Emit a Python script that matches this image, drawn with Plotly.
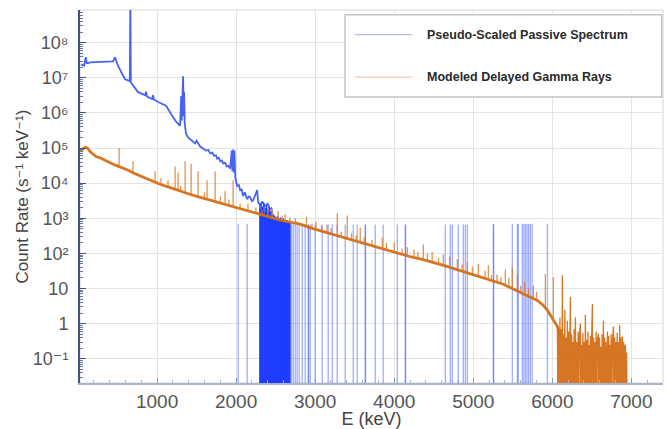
import plotly.graph_objects as go

# ---------------- data ----------------
# Pseudo-scaled passive spectrum: continuous part (keV, s^-1 keV^-1)
blue_E = [38, 63, 76, 95, 101, 110, 127, 152, 200, 279, 350, 405, 443, 468, 485, 506, 557, 595,
          640, 655, 662, 668, 684, 722, 760, 810, 850, 861, 870, 900, 937, 950, 960, 1013, 1063,
          1114, 1177, 1241, 1291, 1305, 1312, 1320, 1329, 1336, 1342, 1350, 1367, 1393, 1440,
          1481, 1500, 1545, 1585, 1620, 1650, 1671, 1700, 1720, 1745, 1760, 1780, 1800, 1820,
          1836, 1860, 1880, 1900, 1924, 1945, 1952, 1962, 1970, 1978, 1990, 2013, 2035, 2051,
          2070, 2089, 2110, 2140, 2160, 2178, 2200, 2216, 2240, 2266, 2280, 2304, 2330, 2360,
          2400, 2430, 2456]
blue_rate = [2.4e7, 2.3e7, 2.2e7, 3.6e7, 3.8e7, 2.6e7, 2.6e7, 2.75e7, 2.8e7, 2.8e7, 2.85e7, 2.9e7,
             2.95e7, 3.8e7, 3.0e7, 2.2e7, 1.3e7, 9.1e6, 8.3e6, 8.0e6, 2.0e9, 7.5e6, 6.6e6, 5.0e6,
             3.9e6, 3.5e6, 3.2e6, 4.0e6, 3.0e6, 2.7e6, 2.5e6, 3.2e6, 2.4e6, 2.05e6, 1.85e6, 1.6e6,
             9.3e5, 5.6e5, 4.3e5, 3.0e6, 6.0e5, 5.0e6, 1.1e7, 8.0e5, 4.0e6, 5.0e5, 2.5e5, 2.0e5,
             1.6e5, 1.35e5, 1.6e5, 1.1e5, 9.5e4, 8.5e4, 8.8e4, 7.0e4, 7.4e4, 6.0e4, 6.2e4, 5.0e4,
             5.3e4, 4.2e4, 4.4e4, 3.6e4, 3.8e4, 3.0e4, 3.1e4, 2.6e4, 8.5e4, 2.2e4, 9.0e4, 2.0e4,
             8.5e4, 1.4e4, 8.3e3, 8.8e3, 6.3e3, 6.6e3, 4.3e3, 5.5e3, 3.5e3, 4.2e3, 4.0e3, 3.1e3,
             3.3e3, 4.5e3, 6.3e3, 2.8e3, 2.4e3, 3.0e3, 2.2e3, 2.6e3, 1.8e3, 2.0e3]

# Passive spectrum: dense band of counting-statistics bins (empty bins between them)
blue_band_E = [2300, 2308, 2317, 2325, 2334, 2342, 2351, 2359, 2368, 2376, 2385, 2393, 2402, 2410,
               2419, 2427, 2436, 2444, 2453, 2461, 2470, 2478, 2487, 2495, 2504, 2512, 2521, 2529,
               2538, 2546, 2555, 2563, 2572, 2580, 2589, 2597, 2606, 2614, 2623, 2631, 2640, 2648,
               2657, 2665, 2674, 2682]
blue_band_rate = [2400, 1900, 2600, 1500, 2200, 1700, 2800, 1400, 2000, 1600, 2300, 1300, 1800, 1500,
                  2100, 1200, 1600, 1100, 1700, 1000, 1300, 950, 1200, 900, 1100, 1000, 850, 1150,
                  900, 1000, 800, 1050, 900, 950, 800, 1000, 850, 900, 750, 850, 800, 900,
                  750, 800, 720, 780]

# Passive spectrum: isolated single-count bins at high energy
blue_count_E = [2026, 2140, 2700, 2722, 2748, 2772, 2798, 2836, 2874, 2912, 2916, 2937, 3000, 3089,
                3165, 3216, 3279, 3380, 3482, 3532, 3633, 3637, 3760, 3861, 4039, 4140, 4144, 4646,
                4710, 4735, 4811, 4874, 4900, 4925, 5254, 5258, 5494, 5558, 5570, 5621, 5640, 5660,
                5680, 5700, 5722, 5745, 5938]
blue_count_rate = [700, 700, 690, 680, 680, 670, 670, 660, 660, 660, 660, 660, 660, 660,
                   660, 660, 660, 660, 660, 660, 660, 660, 660, 660, 660, 660, 660, 660,
                   660, 660, 660, 660, 660, 660, 680, 680, 690, 690, 690, 690, 690, 690,
                   690, 690, 690, 690, 690]

# Modeled delayed gamma rays: continuum
orange_E = [30, 50, 76, 101, 127, 152, 190, 228, 278, 342, 405, 480, 557, 620, 722, 848, 937, 1038,
            1139, 1253, 1367, 1481, 1570, 1671, 1772, 1886, 1988, 2089, 2190, 2304, 2393, 2494,
            2595, 2709, 2811, 2950, 3089, 3228, 3380, 3520, 3659, 3798, 3937, 4077, 4216, 4355,
            4494, 4646, 4786, 4925, 5089, 5229, 5380, 5494, 5596, 5697, 5811, 5887, 5938, 6000,
            6064, 6102]
orange_rate = [7.9e4, 8.9e4, 1.0e5, 1.05e5, 9.5e4, 7.9e4, 6.6e4, 5.75e4, 5.25e4, 4.4e4, 3.8e4,
               3.2e4, 2.75e4, 2.4e4, 1.86e4, 1.41e4, 1.15e4, 9.3e3, 7.8e3, 6.3e3, 5.25e3, 4.35e3,
               3.8e3, 3.3e3, 2.9e3, 2.4e3, 2.1e3, 1.74e3, 1.48e3, 1.26e3, 1.12e3, 980, 850, 760,
               680, 525, 425, 350, 270, 225, 178, 145, 117, 93, 79, 68, 56, 44, 35, 28, 21, 16.6,
               13.2, 10, 7.6, 6.0, 4.6, 3.3, 2.4, 1.4, 0.83, 0.43]

# Modeled delayed gamma rays: discrete lines (energy, continuum under line, line top)
orange_peak_E = [520, 696, 975, 1050, 1139, 1228, 1266, 1300, 1355, 1431, 1519, 1600, 1633, 1734,
                 1800, 1860, 1910, 1962, 2050, 2150, 2250, 2330, 2400, 2456, 2530, 2580, 2620, 2680,
                 2750, 2890, 2960, 3010, 3080, 3150, 3200, 3279, 3330, 3406, 3460, 3520, 3570, 3620,
                 3720, 3849, 3900, 4000, 4100, 4165, 4250, 4300, 4368, 4420, 4480, 4560, 4621, 4700,
                 4798, 4860, 4925, 4990, 5064, 5150, 5191, 5230, 5300, 5350, 5406, 5450, 5494, 5558,
                 5600, 5650, 5700, 5760, 5800, 5912, 6013]
orange_peak_base = [3.0e4, 2.0e4, 1.05e4, 9.2e3, 7.8e3, 6.6e3, 6.2e3, 5.9e3, 5.3e3, 4.7e3, 4.1e3,
                    3.6e3, 3.5e3, 3.05e3, 2.8e3, 2.5e3, 2.35e3, 2.15e3, 1.85e3, 1.58e3, 1.35e3,
                    1.22e3, 1.1e3, 1.03e3, 930, 870, 820, 780, 720, 620, 520, 480, 430, 400, 365,
                    325, 295, 265, 245, 225, 205, 190, 160, 135, 125, 105, 90, 84, 76, 70, 66, 61,
                    57, 51, 46, 40, 34, 31, 28, 25, 22, 19, 17.8, 16.6, 15, 13.8, 12.8, 11.5, 10,
                    8.3, 7.6, 6.8, 6.0, 5.3, 4.7, 2.7, 1.3]
orange_peak_rate = [1.0e5, 4.2e4, 2.2e4, 1.4e4, 1.2e4, 3.0e4, 2.0e4, 8.5e3, 4.2e4, 3.5e4, 2.2e4,
                    5.5e3, 1.2e4, 2.2e4, 4.2e3, 6.0e3, 3.4e3, 1.2e4, 2.6e3, 2.6e3, 2.0e3, 1.7e3,
                    2.0e3, 1.9e3, 1.6e3, 1.2e3, 1.3e3, 1.05e3, 1.0e3, 1.1e3, 700, 800, 620, 650,
                    520, 1.4e3, 420, 1.2e3, 380, 330, 540, 300, 240, 280, 200, 200, 135, 150, 130,
                    110, 178, 100, 110, 75, 93, 80, 68, 48, 56, 42, 50, 32, 46, 24, 25, 21, 35, 20,
                    40, 26, 12, 15, 10, 12, 8, 26, 21]

# Modeled delayed gamma rays: low-statistics tail above 6 MeV (0 = empty bin)
orange_tail_E = [6064, 6072, 6080, 6088, 6096, 6104, 6112, 6120, 6127, 6134, 6142, 6150, 6158, 6166,
                 6174, 6182, 6190, 6198, 6206, 6214, 6222, 6229, 6236, 6244, 6252, 6260, 6268, 6276,
                 6284, 6292, 6300, 6310, 6318, 6326, 6334, 6342, 6355, 6362, 6370, 6378, 6386, 6394,
                 6402, 6410, 6418, 6426, 6434, 6442, 6450, 6458, 6466, 6474, 6482, 6490, 6498, 6507,
                 6514, 6522, 6530, 6538, 6546, 6554, 6562, 6570, 6583, 6590, 6598, 6606, 6614, 6622,
                 6630, 6638, 6646, 6654, 6662, 6670, 6678, 6686, 6697, 6704, 6712, 6720, 6728, 6736,
                 6744, 6752, 6760, 6773, 6780, 6788, 6796, 6804, 6812, 6820, 6828, 6836, 6844, 6852,
                 6860, 6868, 6876, 6887, 6894, 6902, 6910, 6918, 6925, 6932, 6940, 6948]
orange_tail_rate = [0.9, 0, 0.6, 0, 1.5, 0, 0.7, 0, 24, 0, 0.5, 0, 2.5, 0,
                    0.4, 0, 1.2, 0, 0.6, 0, 0.35, 5.8, 0, 0.5, 0, 0.3, 0, 0.7,
                    0, 1.5, 0, 0.3, 0, 0.6, 0, 0.4, 1.0, 0, 0.25, 0, 0.55, 0,
                    0.3, 0, 1.8, 0, 0.35, 0, 0.6, 0, 0.25, 0, 0.45, 0, 0.5, 3.6,
                    0, 0.4, 0, 0.3, 0, 0.6, 0, 0.35, 0.52, 0, 0.4, 0, 0.22, 0,
                    0.5, 0, 1.2, 0, 0.4, 0, 0.3, 0, 0.6, 0, 0.45, 0, 0.25, 0,
                    0.5, 0, 0.3, 0.83, 0, 0.4, 0, 0.3, 0, 0.55, 0, 0.3, 0, 0.9,
                    0, 0.4, 0, 0.43, 0, 0.3, 0, 0.25, 0.22, 0, 0.15, 0]

x_tick_vals = [1000, 2000, 3000, 4000, 5000, 6000, 7000]
y_tick_vals = [0.1, 1, 10, 100, 1e3, 1e4, 1e5, 1e6, 1e7, 1e8]
y_tick_text = ["10\u207b\u00b9", "1", "10", "10\u00b2", "10\u00b3", "10\u2074",
               "10\u2075", "10\u2076", "10\u2077", "10\u2078"]

series_names = ["Pseudo-Scaled Passive Spectrum", "Modeled Delayed Gamma Rays"]

# ---------------- helpers ----------------
FLOOR = 1e-3  # empty bins are drawn below the bottom of the log axis


def shown(rates):
    return [r if r > 0 else FLOOR for r in rates]


def sticks(E, lo, hi):
    xs, ys = [], []
    for e, a, b in zip(E, lo, hi):
        xs += [e, e, None]
        ys += [a, b, None]
    return xs, ys


BLUE = "rgba(40,70,245,0.85)"
BLUE_STICK = "rgba(45,75,255,0.45)"
BLUE_BAND = "rgb(30,60,255)"
ORANGE = "rgba(212,110,22,0.95)"
ORANGE_THIN = "rgba(218,120,35,0.8)"

fig = go.Figure()

bx, by = sticks(blue_count_E, [FLOOR] * len(blue_count_E), blue_count_rate)
fig.add_trace(go.Scatter(x=bx, y=by, mode="lines", line=dict(color=BLUE_STICK, width=1.3),
                         legendgroup="b", showlegend=False, hoverinfo="skip"))
bx, by = sticks(blue_band_E, [FLOOR] * len(blue_band_E), blue_band_rate)
fig.add_trace(go.Scatter(x=bx, y=by, mode="lines", line=dict(color=BLUE_BAND, width=1.3),
                         legendgroup="b", showlegend=False, hoverinfo="skip"))
fig.add_trace(go.Scatter(x=blue_E, y=blue_rate, mode="lines", name=series_names[0],
                         line=dict(color=BLUE, width=1.8), legendgroup="b", showlegend=False))

fig.add_trace(go.Scatter(x=orange_E, y=orange_rate, mode="lines", name=series_names[1],
                         line=dict(color=ORANGE, width=2.8), legendgroup="o", showlegend=False))
ox, oy = sticks(orange_peak_E, orange_peak_base, orange_peak_rate)
fig.add_trace(go.Scatter(x=ox, y=oy, mode="lines", line=dict(color=ORANGE_THIN, width=1.3),
                         legendgroup="o", showlegend=False, hoverinfo="skip"))
fig.add_trace(go.Scatter(x=orange_tail_E, y=shown(orange_tail_rate), mode="lines",
                         line=dict(color=ORANGE, width=1.3), legendgroup="o",
                         showlegend=False, hoverinfo="skip"))

FONT = "Arial, Liberation Sans, DejaVu Sans, sans-serif"

# legend drawn as a framed box with sample lines
leg_x0, leg_x1, leg_y0, leg_y1 = 0.4545, 0.998, 0.767, 0.987
rows = [(0.934, "rgba(120,130,230,0.55)", series_names[0]),
        (0.820, "rgba(230,160,110,0.55)", series_names[1])]
shapes = [dict(type="rect", xref="paper", yref="paper", x0=0, x1=1, y0=0, y1=1,
               line=dict(color="#d6d6d6", width=1), layer="below"),
          dict(type="rect", xref="paper", yref="paper", x0=leg_x0, x1=leg_x1, y0=leg_y0, y1=leg_y1,
               line=dict(color="#c4c4c4", width=1.5), fillcolor="white", layer="above")]
annotations = []
for yy, col, txt in rows:
    shapes.append(dict(type="line", xref="paper", yref="paper", x0=0.472, x1=0.570, y0=yy, y1=yy,
                       line=dict(color=col, width=1.2), layer="above"))
    annotations.append(dict(xref="paper", yref="paper", x=0.592, y=yy, xanchor="left",
                            yanchor="middle", text="<b>" + txt + "</b>", showarrow=False,
                            font=dict(family=FONT, size=12.5, color="#2a2a2a")))

minor_y = [k * 10.0 ** n for n in range(-2, 9) for k in range(2, 10)]

fig.update_layout(
    width=666, height=429,
    margin=dict(l=80, r=3, t=10, b=42),
    paper_bgcolor="white", plot_bgcolor="white",
    showlegend=False,
    shapes=shapes, annotations=annotations,
    xaxis=dict(range=[25, 7400], tickvals=x_tick_vals, ticks="inside", ticklen=5,
               tickcolor="#8c98b4", showline=True, linecolor="#a9b4cc", linewidth=1.5,
               showgrid=True, gridcolor="#e4e4e4", gridwidth=1, zeroline=False,
               tickfont=dict(family=FONT, size=19, color="#555555"),
               minor=dict(dtick=200, ticks="inside", ticklen=3, tickcolor="#a9b4cc", showgrid=False),
               title=dict(text="E (keV)", standoff=2, font=dict(family=FONT, size=18, color="#444444"))),
    yaxis=dict(type="log", range=[-1.69, 8.93], tickvals=y_tick_vals, ticktext=y_tick_text,
               ticks="inside", ticklen=6, tickcolor="#44527a", showline=True,
               linecolor="#44527a", linewidth=2, showgrid=True, gridcolor="#e4e4e4", gridwidth=1,
               zeroline=False, ticklabelstandoff=6,
               tickfont=dict(family=FONT, size=18, color="#555555"),
               minor=dict(tickvals=minor_y, ticks="inside", ticklen=3, tickcolor="#6a789a",
                          showgrid=False),
               title=dict(text="Count Rate (s\u207b\u00b9 keV\u207b\u00b9)", standoff=0,
                          font=dict(family=FONT, size=17, color="#444444"))),
)

fig.write_html("out.html")
